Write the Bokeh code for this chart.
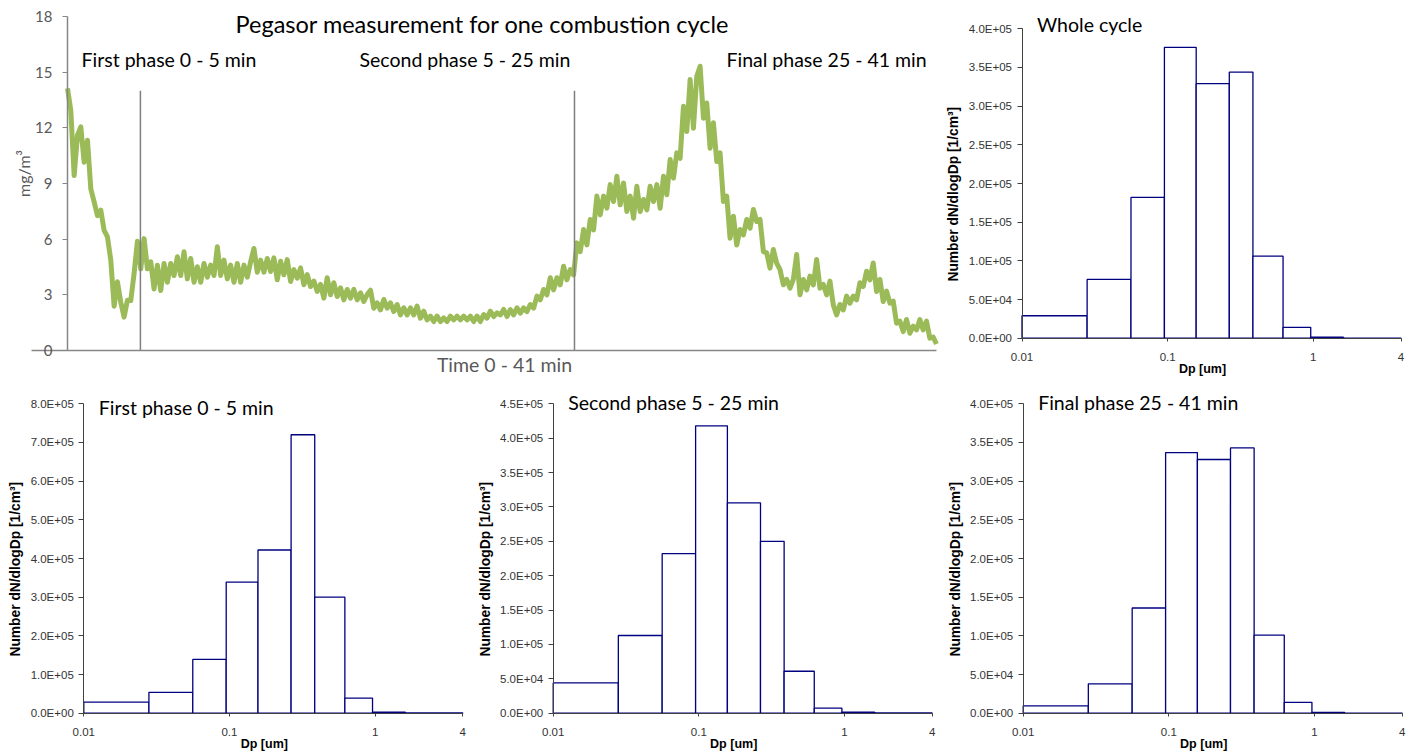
import numpy as np
from bokeh.plotting import figure
from bokeh.layouts import column, row
from bokeh.models import Range1d, FixedTicker, CustomJSTickFormatter, Label
from bokeh.embed import file_html
from bokeh.resources import INLINE

# ---------------- data: Pegasor time series (mg/m3), uniformly sampled over 0-41 min
conc = [
    14.12, 12.93, 9.43, 11.60, 12.05, 10.15, 11.33, 8.71, 8.01, 7.27,
    7.56, 6.47, 6.12, 4.87, 2.39, 3.70, 2.60, 1.80, 2.71, 2.69,
    4.15, 5.89, 4.40, 6.03, 4.40, 4.78, 3.32, 4.60, 3.23, 4.69,
    3.68, 4.69, 4.04, 5.05, 4.04, 5.32, 3.86, 4.96, 3.68, 4.51,
    3.68, 4.69, 3.95, 4.60, 4.04, 5.59, 4.04, 4.87, 3.86, 4.60,
    3.68, 4.69, 3.68, 4.60, 3.95, 4.78, 5.50, 4.22, 4.87, 4.22,
    4.96,
    4.26, 4.99, 3.81, 4.81, 4.08, 4.90, 3.72, 4.36, 3.90, 4.45,
    3.54, 4.09, 3.45, 3.74, 3.18, 3.56, 2.82, 3.92, 3.00, 3.65,
    2.91, 3.38, 2.73, 3.29, 2.82, 3.29, 2.73, 3.11, 2.64, 3.02,
    3.25, 2.28, 2.57, 2.19, 2.75, 2.28, 2.57, 2.10, 2.48, 1.92,
    2.30, 1.92, 2.30, 1.92, 2.39, 1.74, 2.12, 1.65, 1.85, 1.56,
    1.85, 1.56, 1.76, 1.56, 1.85, 1.65, 1.85, 1.65, 1.85, 1.65,
    1.85, 1.56, 1.85, 1.56, 1.94, 1.74, 2.12, 1.83, 2.03, 1.92,
    2.21, 1.83, 2.21, 1.92, 2.30, 2.01, 2.30, 2.10, 2.48, 2.28,
    2.93, 2.73, 3.29, 3.00, 3.92, 3.27, 3.92, 3.54, 4.54, 3.81,
    4.36,
    4.08, 5.80, 5.33, 6.52, 5.69, 7.06, 6.50, 8.32, 7.31, 8.32,
    7.67, 8.94, 8.03, 9.39, 7.85, 9.03, 7.49, 8.32, 7.13, 8.85,
    7.49, 8.14, 7.58, 8.85, 8.03, 8.94, 7.67, 9.39, 8.39, 10.29,
    9.29, 10.65, 10.36, 13.16, 11.80, 14.60, 11.98, 14.78, 15.32, 12.52,
    13.34, 10.90, 12.27, 10.18, 10.65, 8.03, 8.32, 6.05, 7.24, 5.69,
    6.52, 6.23, 7.06, 6.59, 7.60, 6.95, 7.06, 5.33, 5.26,
    4.44, 5.44, 4.71, 4.36, 3.54, 3.83, 3.36, 3.83, 5.17, 3.00,
    3.83, 3.27, 4.01, 3.54, 4.90, 3.36, 3.56, 3.00, 3.74, 2.46,
    1.92, 2.48, 2.19, 2.93, 2.55, 2.93, 2.73, 3.65, 3.45, 4.27,
    3.81, 4.72, 3.18, 3.83, 2.64, 3.20, 2.55, 2.66, 1.47, 1.58,
    1.02, 1.67, 0.93, 1.31, 1.11, 1.67, 1.11, 1.58, 0.66, 0.72,
    0.35,
]
t_max = 41
time_min = np.linspace(0, t_max, len(conc))
conc_max = 18
conc_ticks = [0, 3, 6, 9, 12, 15, 18]
phase_bounds = [3.44, 23.92]
phase_line_top = [14.0, 14.0]
main_title = "Pegasor measurement for one combustion cycle"
phase_names = ["First phase 0 - 5 min", "Second phase 5 - 25 min", "Final phase 25 - 41 min"]

# ---------------- data: size distributions (dN/dlogDp, 1/cm3)
bin_edges = [0.01, 0.028, 0.056, 0.095, 0.157, 0.265, 0.385, 0.62, 0.96, 1.61, 4.0]
whole = [2.9e4, 7.6e4, 1.82e5, 3.76e5, 3.29e5, 3.44e5, 1.06e5, 1.4e4, 1.3e3, 200]
first = [2.85e4, 5.4e4, 1.39e5, 3.39e5, 4.22e5, 7.2e5, 3.0e5, 3.9e4, 3.0e3, 500]
second = [4.4e4, 1.13e5, 2.32e5, 4.18e5, 3.06e5, 2.5e5, 6.1e4, 7.3e3, 1.5e3, 300]
final = [9.5e3, 3.8e4, 1.36e5, 3.37e5, 3.28e5, 3.43e5, 1.01e5, 1.4e4, 1.0e3, 200]
x_ticks = [0.01, 0.1, 1, 4]

CAL = "Lato"
ARIAL = "Liberation Sans"
GREY = "#595959"

# ---------------- time-series figure: frame fills the whole figure, axes fixed at 0
TS_W, TS_H = 940, 380
X0_PX, X41_PX = 67, 936        # pixel columns of t=0 and t=41
TOP_PX, ZERO_PX = 16, 350      # pixel rows of 18 and 0
kx = t_max / (X41_PX - X0_PX)
ky = conc_max / (ZERO_PX - TOP_PX)


def tx(px):
    return (px - X0_PX) * kx


def ty(py):
    return (ZERO_PX - py) * ky


p1 = figure(width=TS_W, height=TS_H,
            x_range=Range1d(tx(0), tx(TS_W)), y_range=Range1d(ty(TS_H), ty(0)),
            output_backend="svg", toolbar_location=None,
            min_border_left=0, min_border_right=0, min_border_top=0, min_border_bottom=0)
p1.line(time_min, conc, line_color="#9BBB59", line_width=5, line_join="round")
p1.segment(x0=phase_bounds, y0=[0, 0], x1=phase_bounds, y1=phase_line_top,
           line_color="#7F7F7F", line_width=1.5)
p1.grid.visible = False
p1.outline_line_color = None
p1.yaxis.fixed_location = 0
p1.yaxis.bounds = (0, conc_max)
p1.yaxis.ticker = FixedTicker(ticks=conc_ticks)
p1.yaxis.minor_tick_line_color = None
p1.yaxis.major_tick_out = 5
p1.yaxis.major_tick_in = 0
p1.yaxis.major_label_standoff = 10
p1.yaxis.major_label_text_font = CAL
p1.yaxis.major_label_text_font_size = "15px"
p1.yaxis.major_label_text_color = GREY
p1.yaxis.axis_line_color = "#868686"
p1.yaxis.axis_line_width = 1.5
p1.yaxis.major_tick_line_color = "#868686"
p1.xaxis.fixed_location = 0
p1.xaxis.bounds = (tx(31), t_max)
p1.xaxis.ticker = FixedTicker(ticks=[])
p1.xaxis.minor_tick_line_color = None
p1.xaxis.major_tick_out = 0
p1.xaxis.axis_line_color = "#868686"
p1.xaxis.axis_line_width = 1.5
p1.add_layout(Label(x=tx(482), y=ty(23), text=main_title, text_font=CAL,
                    text_font_size="23.5px", text_align="center", text_baseline="middle",
                    text_color="black"))
for nm, px in zip(phase_names, [81, 359, 726]):
    p1.add_layout(Label(x=tx(px), y=ty(59), text=nm, text_font=CAL,
                        text_font_size="19.5px", text_align="left", text_baseline="middle",
                        text_color="black"))
p1.add_layout(Label(x=tx(504), y=ty(364), text="Time 0 - 41 min", text_font=CAL,
                    text_font_size="19.5px", text_align="center", text_baseline="middle",
                    text_color=GREY))
p1.add_layout(Label(x=tx(23), y=ty(173), text="mg/m³", text_font=CAL, angle=np.pi / 2,
                    text_font_size="16px", text_align="center", text_baseline="middle",
                    text_color=GREY))

yfmt = """
const s = tick.toExponential(1);
const parts = s.split('e');
const n = parseInt(parts[1]);
return parts[0] + 'E' + (n < 0 ? '-' : '+') + String(Math.abs(n)).padStart(2, '0');
"""
xfmt = "return String(Math.round(tick*100)/100);"

AX_H = 309.4                          # pixels between 0 and the top tick
AX_W = 379.0                          # pixels between 0.01 and 4
DEC = AX_W / np.log10(4 / 0.01)       # pixels per decade


def hist_fig(vals, ymax, ystep, title, width, height, left_px, top_px, zero_px,
             title_py, ylab_px):
    u = ymax / AX_H

    def hx(px):
        return 0.01 * 10 ** ((px - left_px) / DEC)

    def hy(py):
        return (zero_px - py) * u

    p = figure(width=width, height=height, x_axis_type="log",
               x_range=Range1d(hx(0), hx(width)), y_range=Range1d(hy(height), hy(0)),
               output_backend="svg", toolbar_location=None,
               min_border_left=0, min_border_right=0, min_border_top=0, min_border_bottom=0)
    p.quad(left=bin_edges[:-1], right=bin_edges[1:], bottom=0, top=vals,
           fill_color="white", line_color="#000080", line_width=1.3)
    p.grid.visible = False
    p.outline_line_color = None
    nt = int(round(ymax / ystep))
    p.yaxis.fixed_location = 0.01
    p.yaxis.bounds = (0, ymax)
    p.yaxis.ticker = FixedTicker(ticks=[i * ystep for i in range(nt + 1)])
    p.yaxis.formatter = CustomJSTickFormatter(code=yfmt)
    p.yaxis.minor_tick_line_color = None
    p.yaxis.major_tick_out = 5
    p.yaxis.major_tick_in = 0
    p.yaxis.major_label_standoff = 5
    p.yaxis.major_label_text_font = ARIAL
    p.yaxis.major_label_text_font_size = "11.5px"
    p.yaxis.major_label_text_color = "#333333"
    p.yaxis.axis_line_color = "#404040"
    p.yaxis.major_tick_line_color = "#404040"
    p.xaxis.fixed_location = 0
    p.xaxis.bounds = (0.01, 4)
    p.xaxis.ticker = FixedTicker(ticks=x_ticks)
    p.xaxis.formatter = CustomJSTickFormatter(code=xfmt)
    p.xaxis.minor_tick_line_color = None
    p.xaxis.major_tick_out = 3
    p.xaxis.major_tick_in = 0
    p.xaxis.major_label_standoff = 12
    p.xaxis.major_label_text_font = ARIAL
    p.xaxis.major_label_text_font_size = "11.5px"
    p.xaxis.major_label_text_color = "#333333"
    p.xaxis.axis_line_color = "#404040"
    p.xaxis.major_tick_line_color = "#404040"
    p.add_layout(Label(x=hx(left_px + 15), y=hy(title_py), text=title, text_font=CAL,
                       text_font_size="19.5px", text_align="left", text_baseline="middle",
                       text_color="black"))
    p.add_layout(Label(x=hx(left_px + 180.5), y=hy(zero_px + 30.5), text="Dp [um]",
                       text_font=ARIAL, text_font_size="12.5px", text_font_style="bold",
                       text_align="center", text_baseline="middle", text_color="black"))
    p.add_layout(Label(x=hx(ylab_px), y=hy(zero_px - 144), text="Number dN/dlogDp [1/cm³]",
                       angle=np.pi / 2, text_font=ARIAL, text_font_size="13.8px",
                       text_font_style="bold", text_align="center", text_baseline="middle",
                       text_color="black"))
    return p


# pixel positions are relative to each figure's top-left corner
p2 = hist_fig(whole, 4e5, 5e4, "Whole cycle", 472, 380, 81.5, 28.3, 337.7, 24, 13)
p3 = hist_fig(first, 8e5, 1e5, "First phase 0 - 5 min", 470, 374, 83.3, 23.3, 332.7, 27, 15)
p4 = hist_fig(second, 4.5e5, 5e4, "Second phase 5 - 25 min", 470, 374, 82.7, 23.3, 332.7, 21.5, 15)
p5 = hist_fig(final, 4e5, 5e4, "Final phase 25 - 41 min", 472, 374, 82.7, 23.3, 332.7, 21.5, 15)

layout = column(row(p1, p2), row(p3, p4, p5))
open("out.html", "w").write(file_html(layout, INLINE))
